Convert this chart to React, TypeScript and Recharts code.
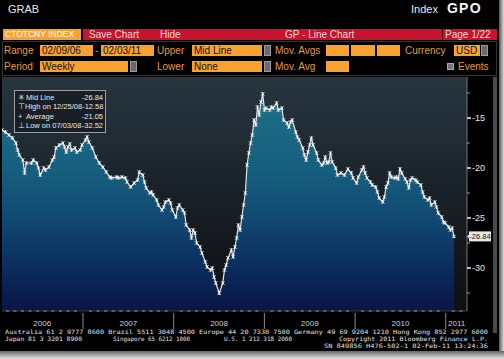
import React from "react";
import { ComposedChart, Area, XAxis, YAxis, CartesianGrid } from "recharts";

// weekly closes, CTOTCNY INDEX 02/09/06 - 02/03/11 (week index from start)
const weeks = [
  0, 2, 4, 6, 8, 9, 10, 12, 13, 14, 17, 18, 20, 21, 22, 24, 25, 27, 29, 30,
  31, 33, 35, 36, 37, 38, 39, 40, 42, 43, 45, 46, 48, 49, 50, 52, 54, 56, 58, 60,
  62, 63, 66, 67,
  69, 71, 72, 74, 76, 78, 79, 81, 82, 83, 85, 86, 87, 89, 90, 92, 93, 94, 96, 97,
  98, 100, 101, 102, 104, 105, 106, 108, 109, 110, 111, 112, 114, 115, 117, 118, 120, 121, 122, 123,
  125, 127, 128, 129,
  130, 132, 133, 134, 135, 136, 137, 138, 139, 140, 141, 142, 143, 144, 145, 146, 147, 148, 149, 150,
  151, 152, 154, 155, 156, 158, 159, 161, 162, 164, 165, 166, 167, 169, 170, 171, 173, 174, 175, 176,
  177, 178, 179, 181, 182, 184, 185, 186, 187, 188, 189, 190, 192, 193, 195,
  197, 199, 201, 202, 204, 205, 207, 208, 209, 210, 212, 213, 215, 216, 217, 219, 220, 221, 222, 223,
  224, 226, 227, 228, 229, 230, 232, 233, 234, 235, 236, 238, 239, 241, 242, 243, 245, 246, 247, 249,
  250, 251, 253, 254, 255, 257, 258, 259, 260,
];

const levels = [
  -16.2, -16.4, -16.7, -17.0, -17.5, -18.2, -18.7, -19.2, -20.5, -19.5,
  -19.5, -19.2, -19.5, -20.0, -20.7, -20.0, -20.2, -19.9, -19.2, -18.9,
  -18.0, -17.7, -17.5, -17.9, -18.4, -17.9, -17.6, -18.2, -18.0, -18.4,
  -18.2, -17.7, -17.2, -16.9, -17.4, -18.0, -18.9, -19.5, -19.9, -20.4,
  -20.9, -21.0, -20.9, -21.0,
  -20.9, -21.0, -21.4, -21.9, -21.5, -21.2, -20.4, -20.7, -21.4, -22.0,
  -22.5, -22.4, -22.7, -23.2, -23.7, -24.2, -23.9, -23.4, -23.2, -23.5,
  -24.2, -24.9, -24.0, -23.7, -24.2, -24.5, -25.7, -26.2, -27.0, -26.2,
  -26.5, -27.5, -27.9, -28.5, -29.4, -29.9, -30.2, -30.0, -30.9, -31.5,
  -32.52, -31.5, -30.2, -29.7,
  -29.0, -28.2, -28.9, -27.9, -27.0, -25.7, -26.2, -24.9, -23.7, -22.5,
  -19.7, -18.5, -17.5, -16.7, -15.2, -15.7, -13.9, -14.7, -13.4, -12.58,
  -14.2, -14.0, -14.2, -13.9, -14.0, -13.5, -14.2, -14.0, -15.2, -15.5,
  -15.9, -15.4, -15.2, -16.4, -16.9, -17.2, -18.0, -18.7, -19.2, -18.4,
  -17.7, -17.0, -17.7, -18.5, -19.2, -19.7, -19.5, -18.9, -19.5, -19.4,
  -18.5, -19.4, -20.0, -20.7, -20.5,
  -20.7, -20.1, -20.5, -21.0, -21.5, -20.9, -20.2, -19.9, -20.5, -21.0,
  -21.4, -21.7, -21.9, -22.4, -23.0, -23.4, -22.9, -21.9, -21.5, -20.5,
  -20.9, -21.0, -20.9, -21.1, -20.1, -20.5, -21.1, -21.4, -22.0, -21.2,
  -21.0, -21.2, -21.4, -21.7, -22.4, -22.9, -23.2, -23.0, -23.7, -23.4,
  -23.9, -24.5, -24.9, -25.4, -25.5, -25.9, -26.2, -26.0, -26.84,
];

const START_YEAR = 2006 + 39 / 365; // 02/09/06
const X_END = 2011.234;
const yearStarts = [2007, 2008, 2009, 2010, 2011];
const yearLabelAt = [2006.55, 2007.5, 2008.5, 2009.5, 2010.5, 2011.12];
const yearLabels = ["2006", "2007", "2008", "2009", "2010", "2011"];
const yMajor = [-30, -25, -20, -15];
const yMinor = [-32.5, -27.5, -22.5, -17.5, -12.5];
const lastValue = -26.84;

const statIcons = ["\u2733", "\u22A4", "+", "\u22A5"];
const statLabels = ["Mid Line", "High on 12/25/08", "Average", "Low on 07/03/08"];
const statValues = ["-26.84", "-12.58", "-21.05", "-32.52"];

const footer1 =
  "Australia 61 2 9777 8600 Brazil 5511 3048 4500 Europe 44 20 7330 7500 Germany 49 69 9204 1210 Hong Kong 852 2977 6000";
const footer2 = ["Japan 81 3 3201 8900", "Singapore 65 6212 1000", "U.S. 1 212 318 2000", "Copyright 2011 Bloomberg Finance L.P."];
const footer3 = "SN 849856 H476-502-1 02-Feb-11 13:24:36";

const data = weeks.map((w, i) => ({ t: START_YEAR + (w * 7) / 365.25, v: levels[i] }));

const monthTicks: number[] = [];
for (let y = 2006; y <= 2011; y++) {
  for (let m = 1; m < 12; m++) {
    const v = y + m / 12;
    if (v > START_YEAR && v < X_END && !yearLabelAt.includes(v)) monthTicks.push(v);
  }
}
const xTicks = [...monthTicks, ...yearStarts, ...yearLabelAt];
const yTicks = [...yMinor, ...yMajor, lastValue];

const UI = "'Liberation Sans', Arial, sans-serif";
const AMBER = "#f9a230";
const LABEL = "#e89a3a";

function YearTick(props: any) {
  const { x, y, payload } = props;
  const v = payload.value;
  if (yearStarts.includes(v)) {
    return <line x1={x} x2={x} y1={y + 2} y2={y + 18} stroke="#8a8a8a" strokeWidth={1} />;
  }
  const li = yearLabelAt.indexOf(v);
  if (li >= 0) {
    const onMonth = Math.abs(v * 12 - Math.round(v * 12)) < 1e-6;
    return (
      <g>
        {onMonth && <line x1={x - 1.5} x2={x + 1.5} y1={y} y2={y} stroke="#9a9a9a" />}
        <text x={x} y={y + 15} textAnchor="middle" fontSize={8} fontFamily={UI} fill="#cfcfcf">
          {yearLabels[li]}
        </text>
      </g>
    );
  }
  return <line x1={x - 1.5} x2={x + 1.5} y1={y} y2={y} stroke="#9a9a9a" />;
}

function LevelTick(props: any) {
  const { x, y, payload } = props;
  const v = payload.value;
  if (v === lastValue) {
    return (
      <g>
        <path d={`M${x},${y} L${x + 3},${y - 3} L${x + 3},${y + 3} Z`} fill="#e8e8e8" />
        <rect x={x + 2} y={y - 5} width={22} height={10} fill="#e8e8e8" />
        <text x={x + 13} y={y + 3} textAnchor="middle" fontSize={7.5} fontFamily={UI} fill="#111">
          {v.toFixed(2)}
        </text>
      </g>
    );
  }
  if (yMajor.includes(v)) {
    return (
      <g>
        <line x1={x} x2={x + 4} y1={y} y2={y} stroke="#f0f0f0" strokeWidth={1.5} />
        <text x={x + 5} y={y + 3} fontSize={9} fontFamily={UI} fill="#e6e6e6">
          {v}
        </text>
      </g>
    );
  }
  return <line x1={x} x2={x + 3} y1={y} y2={y} stroke="#9a9a9a" />;
}

function StarDot(props: any) {
  const { cx, cy } = props;
  if (cx == null || cy == null) return null;
  return (
    <path
      d={`M${cx - 1.6},${cy - 1.6}L${cx + 1.6},${cy + 1.6}M${cx + 1.6},${cy - 1.6}L${cx - 1.6},${cy + 1.6}M${cx},${cy - 1.8}V${cy + 1.8}`}
      stroke="#f4f4f4"
      strokeWidth={1}
    />
  );
}

function Field({ x, y, w, text, color = "#111", size = 10 }: { x: number; y: number; w: number; text?: string; color?: string; size?: number }) {
  return (
    <div
      style={{
        position: "absolute", left: x, top: y, width: w, height: 11, background: AMBER,
        color, fontSize: size, lineHeight: "11px", paddingLeft: 2, boxSizing: "border-box", fontFamily: UI,
        whiteSpace: "nowrap", overflow: "hidden",
      }}
    >
      {text}
    </div>
  );
}

function Drop({ x, y }: { x: number; y: number }) {
  return (
    <div style={{ position: "absolute", left: x, top: y, width: 7, height: 11, background: "#6a6a6a", border: "1px solid #9a9a9a", boxSizing: "border-box" }} />
  );
}

function Label({ x, y, text }: { x: number; y: number; text: string }) {
  return (
    <div style={{ position: "absolute", left: x, top: y, color: LABEL, fontSize: 10, lineHeight: "11px", fontFamily: UI, whiteSpace: "nowrap" }}>
      {text}
    </div>
  );
}

export default function App() {
  return (
    <div style={{ position: "absolute", left: 0, top: 0, width: 504, height: 359, background: "#000", overflow: "hidden", fontFamily: UI }}>
      {/* header */}
      <div style={{ position: "absolute", left: 8, top: 3, color: "#e8e8e8", fontSize: 11 }}>GRAB</div>
      <div style={{ position: "absolute", left: 411, top: 3, color: "#e8e8e8", fontSize: 11 }}>Index</div>
      <div style={{ position: "absolute", left: 447, top: 0, color: "#f4f4f4", fontSize: 14, fontWeight: "bold", letterSpacing: 1.2 }}>GPO</div>

      {/* title row */}
      <Field x={3} y={29} w={78} text="CTOTCNY INDEX" color="#fff" size={8.5} />
      <div style={{ position: "absolute", left: 83, top: 29, width: 414, height: 11, background: "#c8132e", color: "#f6d6d6", fontSize: 10, lineHeight: "11px" }}>
        <span style={{ position: "absolute", left: 6 }}>Save Chart</span>
        <span style={{ position: "absolute", left: 77 }}>Hide</span>
        <span style={{ position: "absolute", left: 202 }}>GP - Line Chart</span>
        <span style={{ position: "absolute", left: 359, top: 0, width: 1, height: 11, background: "#300" }} />
        <span style={{ position: "absolute", left: 362 }}>Page 1/22</span>
      </div>

      {/* control panel */}
      <div style={{ position: "absolute", left: 2, top: 41, width: 495, height: 35, border: "1px solid #333", boxSizing: "border-box" }} />
      <Label x={4} y={45} text="Range" />
      <Field x={40} y={45} w={53} text="02/09/06" />
      <Label x={95} y={45} text="-" />
      <Field x={101} y={45} w={53} text="02/03/11" />
      <Label x={157} y={45} text="Upper" />
      <Field x={192} y={45} w={70} text="Mid Line" />
      <Drop x={264} y={45} />
      <Label x={275} y={45} text="Mov. Avgs" />
      <Field x={326} y={45} w={23} />
      <Field x={351} y={45} w={24} />
      <Field x={377} y={45} w={23} />
      <Label x={405} y={45} text="Currency" />
      <Field x={454} y={45} w={26} text="USD" />
      <Drop x={481} y={45} />

      <Label x={4} y={61} text="Period" />
      <Field x={40} y={61} w={88} text="Weekly" />
      <Drop x={130} y={61} />
      <Label x={157} y={61} text="Lower" />
      <Field x={192} y={61} w={70} text="None" />
      <Drop x={264} y={61} />
      <Label x={275} y={61} text="Mov. Avg" />
      <Field x={326} y={61} w={23} />
      <div style={{ position: "absolute", left: 447, top: 63, width: 7, height: 7, background: "#777", border: "1px solid #aaa", boxSizing: "border-box" }} />
      <Label x={458} y={61} text="Events" />

      {/* frame strip behind the chart */}
      <div style={{ position: "absolute", left: 493, top: 77, width: 4, height: 256, background: "#4a4a4a" }} />

      {/* chart */}
      <div style={{ position: "absolute", left: 0, top: 77 }}>
        <ComposedChart width={504} height={256} data={data} margin={{ top: 0, right: 12, bottom: 0, left: 2 }}>
          <defs>
            <linearGradient id="bgGrad" x1="0" y1="0" x2="0" y2="1">
              <stop offset="0" stopColor="#27353e" />
              <stop offset="0.2" stopColor="#222e37" />
              <stop offset="0.45" stopColor="#1a232a" />
              <stop offset="0.7" stopColor="#14191e" />
              <stop offset="1" stopColor="#0e1013" />
            </linearGradient>
            <linearGradient id="areaGrad" x1="0" y1="0" x2="0" y2="1">
              <stop offset="0" stopColor="#1e7088" />
              <stop offset="0.35" stopColor="#165f7e" />
              <stop offset="0.6" stopColor="#104670" />
              <stop offset="0.82" stopColor="#0b2a5c" />
              <stop offset="1" stopColor="#0a1545" />
            </linearGradient>
          </defs>
          <CartesianGrid fill="url(#bgGrad)" fillOpacity={1} horizontal={false} vertical={false} />
          <XAxis
            type="number"
            dataKey="t"
            domain={[START_YEAR, X_END]}
            ticks={xTicks}
            interval={0}
            tick={YearTick}
            tickLine={false}
            tickSize={0}
            tickMargin={0}
            height={22}
            axisLine={{ stroke: "#3c3c3c" }}
            allowDataOverflow
          />
          <YAxis
            orientation="right"
            domain={[-34.3, -10.9]}
            ticks={yTicks}
            interval={0}
            tick={LevelTick}
            tickLine={false}
            tickSize={0}
            tickMargin={0}
            width={25}
            axisLine={{ stroke: "#777" }}
            allowDataOverflow
          />
          <Area
            type="linear"
            dataKey="v"
            baseValue="dataMin"
            fill="url(#areaGrad)"
            fillOpacity={1}
            stroke="#e6e6e6"
            strokeWidth={1.2}
            dot={StarDot}
            activeDot={false}
            isAnimationActive={false}
          />
        </ComposedChart>
      </div>

      {/* stats box */}
      <div
        style={{
          position: "absolute", left: 14, top: 90, width: 92, height: 43, background: "rgba(22,30,36,0.9)",
          border: "1px solid #9aa0a6", boxSizing: "border-box", padding: "2px 2px 0 3px",
        }}
      >
        {statLabels.map((l, i) => (
          <div key={l} style={{ display: "flex", fontSize: 7.5, lineHeight: "9.3px", color: "#e8e8e8", whiteSpace: "nowrap" }}>
            <span style={{ width: 8 }}>{statIcons[i]}</span>
            <span style={{ flex: 1 }}>{l}</span>
            <span>{statValues[i]}</span>
          </div>
        ))}
      </div>

      {/* frame */}
      <div style={{ position: "absolute", left: 499, top: 0, width: 5, height: 359, background: "linear-gradient(to right,#555,#ddd)" }} />
      <div style={{ position: "absolute", left: 0, top: 351, width: 504, height: 8, background: "linear-gradient(to bottom,#666,#e4e4e4)" }} />

      {/* footer */}
      <svg style={{ position: "absolute", left: 0, top: 0 }} width={504} height={359}>
        <g fontFamily="'DejaVu Sans Mono', monospace" fontSize={6} fill="#e0e0e0">
          <text x={5} y={334} textLength={483} lengthAdjust="spacingAndGlyphs">{footer1}</text>
          <text x={5} y={341} textLength={77} lengthAdjust="spacingAndGlyphs">{footer2[0]}</text>
          <text x={113} y={341} textLength={77} lengthAdjust="spacingAndGlyphs">{footer2[1]}</text>
          <text x={224} y={341} textLength={68} lengthAdjust="spacingAndGlyphs">{footer2[2]}</text>
          <text x={339} y={341} textLength={149} lengthAdjust="spacingAndGlyphs">{footer2[3]}</text>
          <text x={324} y={348} textLength={164} lengthAdjust="spacingAndGlyphs">{footer3}</text>
        </g>
      </svg>
    </div>
  );
}
